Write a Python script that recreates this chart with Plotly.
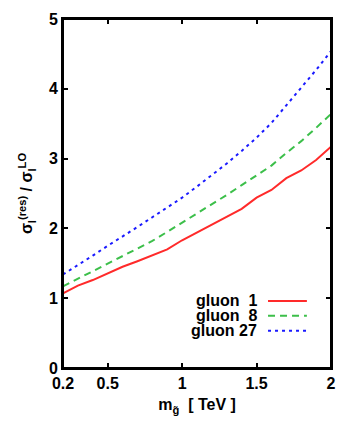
import plotly.graph_objects as go

mass = [0.2, 0.3, 0.4, 0.5, 0.6, 0.7, 0.8, 0.9, 1.0, 1.1, 1.2, 1.3, 1.4, 1.5, 1.6, 1.7, 1.8, 1.9, 2.0]
gluon1 = [1.07, 1.18, 1.26, 1.36, 1.45, 1.53, 1.62, 1.70, 1.83, 1.94, 2.05, 2.16, 2.28, 2.44, 2.55, 2.72, 2.83, 2.98, 3.17]
gluon8 = [1.17, 1.28, 1.39, 1.50, 1.61, 1.71, 1.82, 1.95, 2.08, 2.21, 2.34, 2.48, 2.62, 2.76, 2.90, 3.08, 3.25, 3.44, 3.64]
gluon27 = [1.34, 1.47, 1.61, 1.75, 1.88, 2.02, 2.16, 2.30, 2.44, 2.60, 2.76, 2.93, 3.11, 3.30, 3.51, 3.76, 4.01, 4.27, 4.54]

series_names = ["gluon  1", "gluon  8", "gluon 27"]
series_colors = ["#ff2a2a", "#3cbf4a", "#1a1aff"]
series_dash = ["solid", "7px,5px", "3px,4px"]

x_ticks = [0.2, 0.5, 1, 1.5, 2]
x_ticklabels = ["0.2", "0.5", "1", "1.5", "2"]
y_ticks = [0, 1, 2, 3, 4, 5]

FONT = "Liberation Sans, Arial, sans-serif"

fig = go.Figure()
for name, ys, col, dash in zip(series_names, [gluon1, gluon8, gluon27], series_colors, series_dash):
    fig.add_trace(go.Scatter(x=mass, y=ys, mode="lines", name=name,
                             line=dict(color=col, width=2, dash=dash),
                             showlegend=False))

# custom legend (text right-aligned, line sample to the right, as in gnuplot)
leg_y = [0.192, 0.150, 0.107]
for name, col, dash, yy in zip(series_names, series_colors, series_dash, leg_y):
    fig.add_annotation(x=0.728, y=yy, xref="paper", yref="paper", text=name,
                       showarrow=False, xanchor="right", yanchor="middle", borderpad=0,
                       font=dict(family=FONT, size=16, color="black", weight="bold"))
    fig.add_shape(type="line", xref="paper", yref="paper",
                  x0=0.765, x1=0.91, y0=yy, y1=yy,
                  line=dict(color=col, width=2, dash=dash))

# plot frame
fig.add_shape(type="rect", xref="paper", yref="paper", x0=0, x1=1, y0=0, y1=1,
              line=dict(color="black", width=2), fillcolor="rgba(0,0,0,0)", layer="above")

axis_common = dict(showline=True, linecolor="black", linewidth=2,
                   ticks="inside", ticklen=5, tickwidth=1.5, tickcolor="black",
                   showgrid=False, zeroline=False, automargin=False,
                   tickfont=dict(family=FONT, size=16, color="black", weight="bold"))

fig.update_layout(
    xaxis=dict(range=[0.2, 2.0], tickvals=x_ticks, ticktext=x_ticklabels, mirror="ticks",
               title=dict(text="m<sub>g̃</sub>  [ TeV ]", standoff=8,
                          font=dict(family=FONT, size=16, color="black", weight="bold")),
               **axis_common),
    yaxis=dict(range=[0, 5], tickvals=y_ticks, mirror="ticks",
               title=dict(text="σ<sub>l</sub><sup>(res)</sup> / σ<sub>l</sub><sup>LO</sup>", standoff=12,
                          font=dict(family=FONT, size=16, color="black", weight="bold")),
               **axis_common),
    xaxis2=dict(range=[0.2, 2.0], tickvals=x_ticks, overlaying="x", side="top", anchor="y",
                showticklabels=False, **axis_common),
    yaxis2=dict(range=[0, 5], tickvals=y_ticks, overlaying="y", side="right", anchor="x",
                showticklabels=False, **axis_common),
)

fig.update_layout(width=341, height=429,
                  margin=dict(l=63, r=10, t=19, b=61),
                  paper_bgcolor="white", plot_bgcolor="white",
                  font=dict(family=FONT, color="black"))

fig.write_html("out.html", config={"displayModeBar": False},
               post_script="document.body.style.margin='0';")
